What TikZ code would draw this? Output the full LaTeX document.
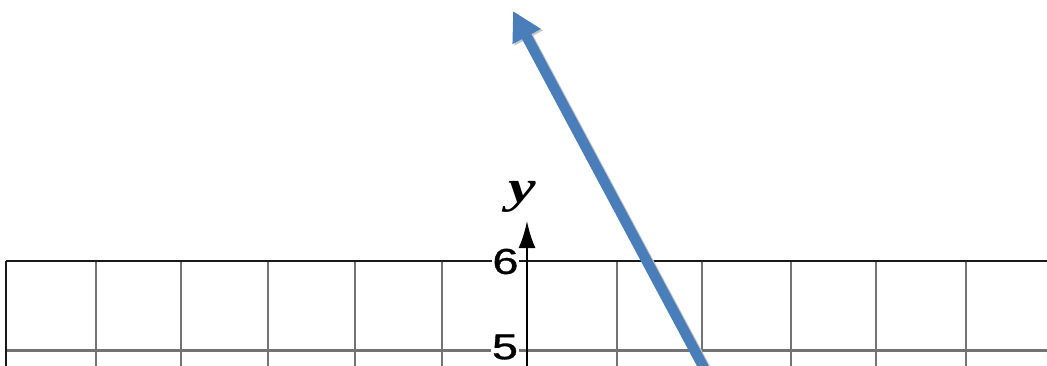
\documentclass[tikz,border=0pt]{standalone}
\usepackage{fontspec}
\setmainfont{Liberation Serif}
\newfontfamily\arialf[FakeBold=0.8]{Liberation Sans}
\usetikzlibrary{arrows.meta}
\definecolor{arrowblue}{RGB}{74,126,187}
\begin{document}
\begin{tikzpicture}[x=1pt,y=-1pt,
  gridline/.style={line width=2.6pt,draw=black!55},
  borderline/.style={line width=2.4pt,draw=black!90},
  axisline/.style={line width=2.4pt,draw=black,-{Latex[length=27pt,width=17pt]}},
  ticklabel/.style={font=\arialf\fontsize{36}{36}\selectfont,fill=white,inner sep=0.5pt,xscale=1.3},
  axislabel/.style={font=\fontsize{46}{46}\selectfont\bfseries\itshape,inner sep=0pt,xscale=1.35},
  bluearrow/.style={line width=10.5pt,draw=arrowblue,-{Triangle[length=29pt,width=30pt]}},
  shadowarrow/.style={line width=10.5pt,draw=black!22,-{Triangle[length=29pt,width=30pt]}}]
\useasboundingbox (0,0) rectangle (1047,365);
% vertical grid lines
\foreach \x in {96,181,268,355,442,617,702,791,876,966}
  \draw[gridline] (\x,261) -- (\x,370);
% second horizontal line
\draw[gridline] (6,350.5) -- (1050,350.5);
% border lines
\draw[borderline] (6,261) -- (1050,261);
\draw[borderline] (6,261) -- (6,370);
% labels
\node[ticklabel] (six) at (505.5,261.5) {6};
\node[ticklabel] (five) at (505,347) {5};
% y axis
\coordinate (axbot) at (527,370);
\coordinate (axtop) at (527,221);
\draw[axisline] (axbot) -- (axtop);
\node[axislabel] (ylab) at (522,197) {y};
% blue arrow
\coordinate (bstart) at (704,368);
\coordinate (btip) at (513,11);
\draw[shadowarrow,transform canvas={shift={(2pt,-1.5pt)}}] (bstart) -- (btip);
\draw[bluearrow] (bstart) -- (btip);
\end{tikzpicture}
\end{document}
